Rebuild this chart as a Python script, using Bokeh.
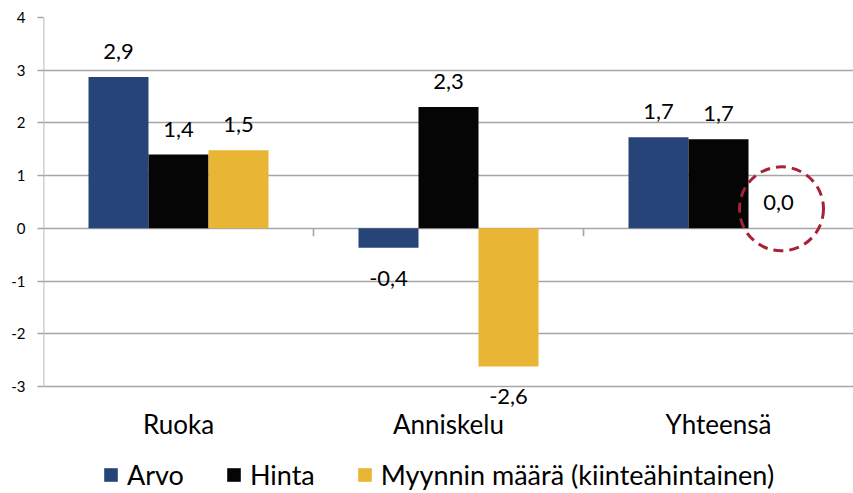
from bokeh.plotting import figure
from bokeh.models import (Range1d, FixedTicker, ColumnDataSource, LabelSet, Legend, LegendItem)
from bokeh.core.properties import value
from bokeh.embed import file_html
from bokeh.resources import INLINE

# ---- data ----
categories = ["Ruoka", "Anniskelu", "Yhteensä"]
series_names = ["Arvo", "Hinta", "Myynnin määrä (kiinteähintainen)"]
arvo = [2.87, -0.37, 1.73]
hinta = [1.40, 2.30, 1.69]
maara = [1.48, -2.62, 0.0]
y_ticks = [-3, -2, -1, 0, 1, 2, 3, 4]
highlight_category = "Yhteensä"   # circled "0,0" label
colors = ["#264478", "#050505", "#E9B535"]

# ---- layout constants ----
W, H = 853, 493
LEFT, TOP = 43, 17
AXIS_H = 369                       # pixel height of the value axis (-3..4)
ppu = AXIS_H / (max(y_ticks) - min(y_ticks))   # pixels per unit
frame_h = H - TOP
y_lo = max(y_ticks) - frame_h / ppu
bar_w = 60 / 270
offsets = [-bar_w, 0.0, bar_w]
FONT = "Lato"
GRID = "#a6a6a6"

p = figure(width=W, height=H, output_backend="svg", toolbar_location=None,
           x_range=Range1d(0, len(categories)), y_range=Range1d(y_lo, max(y_ticks)),
           x_axis_location=None,
           min_border_left=LEFT, min_border_right=0, min_border_top=TOP,
           min_border_bottom=0)
p.outline_line_color = None
p.background_fill_color = "white"
p.border_fill_color = "white"

# grid
p.xgrid.visible = False
p.ygrid.ticker = FixedTicker(ticks=y_ticks)
p.ygrid.grid_line_color = GRID
p.ygrid.grid_line_width = 1.6

# y axis (line drawn separately so it spans only the tick range)
p.yaxis.ticker = FixedTicker(ticks=y_ticks)
p.yaxis.major_label_overrides = {t: str(t) for t in y_ticks}
p.yaxis.axis_line_color = None
p.yaxis.major_tick_line_color = GRID
p.yaxis.major_tick_line_width = 1.6
p.yaxis.major_tick_out = 6
p.yaxis.major_tick_in = 0
p.yaxis.minor_tick_line_color = None
p.yaxis.major_label_standoff = 12
p.yaxis.major_label_text_font = FONT
p.yaxis.major_label_text_font_size = "15px"
p.yaxis.major_label_text_color = "#000000"
p.segment(x0=[0], y0=[min(y_ticks)], x1=[0], y1=[max(y_ticks)],
          line_color=GRID, line_width=1.6)

# category boundary ticks on the zero line
bounds = list(range(1, len(categories)))
p.segment(x0=bounds, y0=[0] * len(bounds), x1=bounds, y1=[-8 / ppu] * len(bounds),
          line_color=GRID, line_width=1.6)

centers = [i + 0.5 for i in range(len(categories))]

# bars
renderers = []
pos_x, pos_y, pos_t = [], [], []
neg_x, neg_y, neg_t = [], [], []
for vals, off, col in zip([arvo, hinta, maara], offsets, colors):
    xs = [c + off for c in centers]
    r = p.vbar(x=xs, top=vals, bottom=0, width=bar_w, fill_color=col, line_color=None)
    renderers.append(r)
    for x, v in zip(xs, vals):
        t = f"{v:.1f}".replace(".", ",")
        if round(v, 1) >= 0:
            pos_x.append(x); pos_y.append(v); pos_t.append(t)
        else:
            neg_x.append(x); neg_y.append(v); neg_t.append(t)

lab_kw = dict(text_font=value(FONT), text_font_size="22px", text_color="#000000",
              text_align="center", text_baseline="alphabetic")
p.add_layout(LabelSet(x="x", y="y", text="t", y_offset=18,
                      source=ColumnDataSource(dict(x=pos_x, y=pos_y, t=pos_t)), **lab_kw))
p.add_layout(LabelSet(x="x", y="y", text="t", y_offset=-38,
                      source=ColumnDataSource(dict(x=neg_x, y=neg_y, t=neg_t)), **lab_kw))

# category names below the value axis
cat_kw = dict(lab_kw, text_font_size="26px")
p.add_layout(LabelSet(x="x", y="y", text="t", y_offset=-47,
                      source=ColumnDataSource(dict(x=centers, y=[min(y_ticks)] * len(centers),
                                                   t=categories)), **cat_kw))

# dashed circle around highlighted label
hi = categories.index(highlight_category)
p.scatter(x=[centers[hi] + offsets[2] + 3 / 270], y=[maara[hi] + 19.5 / ppu], size=84,
          marker="circle", fill_color=None, line_color="#A8213A", line_width=3,
          line_dash="10 6")

# legend
legend = Legend(items=[LegendItem(label=n, renderers=[r]) for n, r in zip(series_names, renderers)],
                orientation="horizontal", location=(59, 2),
                glyph_width=17, glyph_height=17, label_standoff=8, spacing=41,
                padding=0, margin=0, border_line_color=None, background_fill_alpha=0,
                label_text_font=FONT, label_text_font_size="27px",
                label_text_color="#000000")
p.add_layout(legend)

open("out.html", "w").write(file_html(p, INLINE))
